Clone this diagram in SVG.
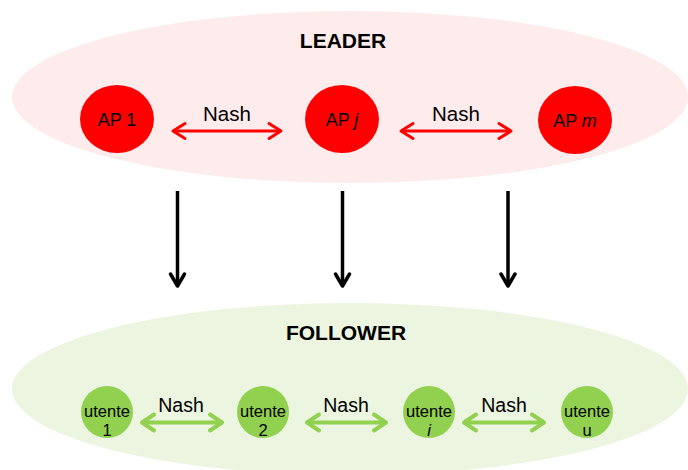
<svg xmlns="http://www.w3.org/2000/svg" width="688" height="470" viewBox="0 0 688 470">
  <style>
    text { font-family: "Liberation Sans", Arial, sans-serif; fill: #000; text-anchor: middle; }
    .title { font-size: 21px; font-weight: bold; }
    .ap { font-size: 18px; }
    .nash { font-size: 20.5px; }
    .nashg { font-size: 19.5px; }
    .ut { font-size: 16.5px; }
    .red { stroke: #ff0000; stroke-width: 3; fill: none; }
    .green { stroke: #92d050; stroke-width: 4; fill: none; }
    .black { stroke: #000; stroke-width: 3.5; fill: none; }
  </style>
  <defs>
    <marker id="headRed" markerUnits="userSpaceOnUse" orient="auto-start-reverse" overflow="visible" refX="0" refY="0" markerWidth="1" markerHeight="1">
      <path d="M-12,-7.5 L0,0 L-12,7.5" fill="none" stroke="#ff0000" stroke-width="3" stroke-linecap="round" stroke-linejoin="round"/>
    </marker>
    <marker id="headGreen" markerUnits="userSpaceOnUse" orient="auto-start-reverse" overflow="visible" refX="0" refY="0" markerWidth="1" markerHeight="1">
      <path d="M-12,-8 L0,0 L-12,8" fill="none" stroke="#92d050" stroke-width="4" stroke-linecap="round" stroke-linejoin="round"/>
    </marker>
    <marker id="headBlack" markerUnits="userSpaceOnUse" orient="auto" overflow="visible" refX="0" refY="0" markerWidth="1" markerHeight="1">
      <path d="M-12,-7 L0,0 L-12,7" fill="none" stroke="#000" stroke-width="3.5" stroke-linecap="round" stroke-linejoin="round"/>
    </marker>
  </defs>

  <!-- leader layer -->
  <g id="leader">
    <ellipse cx="350" cy="97" rx="338" ry="86" fill="#fdeceb"/>
    <text class="title" x="343" y="48">LEADER</text>
  </g>

  <!-- follower layer -->
  <g id="follower">
    <ellipse cx="350" cy="389" rx="338" ry="86" fill="#ebf5e0"/>
    <text class="title" x="346" y="340">FOLLOWER</text>
  </g>

  <g id="ap1">
    <ellipse cx="117" cy="119" rx="37" ry="34" fill="#ff0000"/>
    <text class="ap" x="117" y="126">AP 1</text>
  </g>
  <g id="apj">
    <ellipse cx="342" cy="119" rx="37" ry="34" fill="#ff0000"/>
    <text class="ap" x="342" y="126">AP <tspan font-style="italic">j</tspan></text>
  </g>
  <g id="apm">
    <ellipse cx="575" cy="120" rx="37" ry="34" fill="#ff0000"/>
    <text class="ap" x="575" y="127">AP <tspan font-style="italic">m</tspan></text>
  </g>

  <g id="utente1">
    <circle cx="107" cy="412" r="26" fill="#92d050"/>
    <text class="ut" x="107" y="417">utente</text>
    <text class="ut" x="107" y="436">1</text>
  </g>
  <g id="utente2">
    <circle cx="263" cy="412" r="26" fill="#92d050"/>
    <text class="ut" x="263" y="417">utente</text>
    <text class="ut" x="263" y="436">2</text>
  </g>
  <g id="utentei">
    <circle cx="429" cy="412" r="26" fill="#92d050"/>
    <text class="ut" x="429" y="417">utente</text>
    <text class="ut" x="429" y="436" font-style="italic">i</text>
  </g>
  <g id="utenteu">
    <circle cx="587" cy="412" r="26" fill="#92d050"/>
    <text class="ut" x="587" y="417">utente</text>
    <text class="ut" x="587" y="436">u</text>
  </g>

  <!-- connectors -->
  <g id="connectors">
    <path class="red" d="M173,131 H281" marker-start="url(#headRed)" marker-end="url(#headRed)"/>
    <text class="nash" x="227" y="121">Nash</text>
    <path class="red" d="M401,131 H511" marker-start="url(#headRed)" marker-end="url(#headRed)"/>
    <text class="nash" x="456" y="121">Nash</text>

    <path class="black" d="M177.5,191 V286" marker-end="url(#headBlack)"/>
    <path class="black" d="M342.5,191 V286" marker-end="url(#headBlack)"/>
    <path class="black" d="M508,191 V286" marker-end="url(#headBlack)"/>

    <path class="green" d="M142,422.5 H222" marker-start="url(#headGreen)" marker-end="url(#headGreen)"/>
    <text class="nashg" x="181" y="412">Nash</text>
    <path class="green" d="M307,422.5 H386" marker-start="url(#headGreen)" marker-end="url(#headGreen)"/>
    <text class="nashg" x="346" y="412">Nash</text>
    <path class="green" d="M464,422.5 H544" marker-start="url(#headGreen)" marker-end="url(#headGreen)"/>
    <text class="nashg" x="504" y="412">Nash</text>
  </g>
</svg>
